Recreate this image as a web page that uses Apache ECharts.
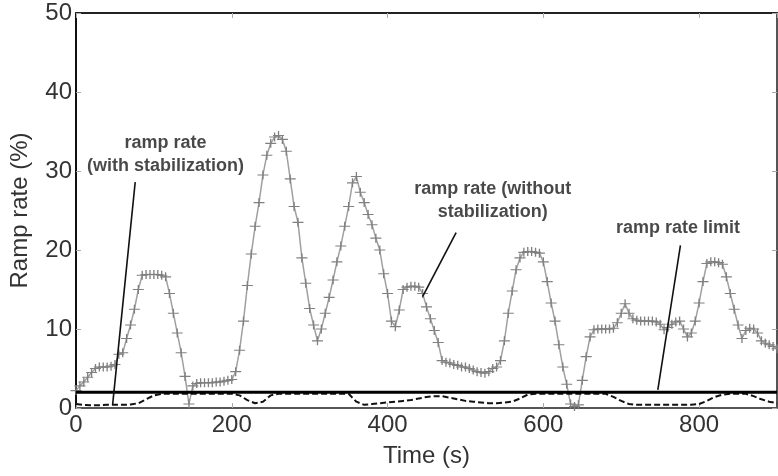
<!DOCTYPE html>
<html>
<head>
<meta charset="utf-8">
<script src="https://cdn.jsdelivr.net/npm/echarts@6/dist/echarts.min.js"></script>
<style>
  html, body { margin: 0; padding: 0; background: #fff; }
  #chart { width: 778px; height: 476px; }
</style>
</head>
<body>
<div id="chart"></div>
<script>
// Time axis (s) for the unstabilized ramp rate, sampled every 5 s
const timeRaw = [];
for (let t = 0; t <= 900; t += 5) timeRaw.push(t);

// Ramp rate without stabilization (%)
const rampRaw = [
  2.2, 2.8, 3.3, 3.9, 4.5, 5.0, 5.2, 5.2, 5.2, 5.3,
  5.5, 6.8, 7.0, 8.8, 10.5, 12.5, 15.0, 16.8, 16.9, 16.9,
  16.9, 16.9, 16.8, 16.6, 14.5, 12.0, 9.5, 7.0, 4.0, 0.5,
  2.8, 3.1, 3.2, 3.2, 3.2, 3.2, 3.3, 3.3, 3.4, 3.5,
  3.6, 4.6, 7.3, 11.0, 15.5, 19.5, 23.0, 26.0, 29.5, 32.0,
  33.5, 34.3, 34.5, 34.0, 32.5, 29.0, 25.5, 23.5, 19.0, 15.8,
  12.6, 10.5, 8.5, 10.0, 12.0, 14.0, 16.2, 18.5, 20.5, 23.0,
  25.5, 28.5, 29.3, 27.3, 26.0, 24.5, 23.2, 21.5, 20.0, 17.0,
  14.5, 11.0, 10.3, 12.4, 15.0, 15.3, 15.4, 15.4, 15.3, 14.5,
  12.8, 11.3, 9.8, 8.3, 6.0, 5.8, 5.7, 5.5, 5.4, 5.2,
  5.2, 5.0, 4.8, 4.6, 4.5, 4.4, 4.6, 5.0, 5.2, 6.0,
  8.5, 12.0, 14.8, 17.5, 19.0, 19.7, 19.8, 19.8, 19.7, 19.6,
  18.5, 16.0, 13.3, 11.0, 8.0, 5.2, 3.0, 0.5, 0.2, 0.4,
  3.5, 6.5, 9.0, 9.9, 10.0, 10.0, 10.0, 10.0, 10.1, 10.8,
  12.0, 13.2, 12.0, 11.3, 11.1, 11.0, 11.0, 11.0, 11.0, 10.9,
  10.6, 9.9, 10.2, 10.6, 10.9, 11.0, 10.0, 9.0, 9.5, 11.0,
  13.3, 16.0, 18.3, 18.5, 18.5, 18.4, 18.2, 16.6, 14.5, 12.5,
  10.5, 8.8, 9.8, 10.1, 10.0, 9.5, 8.5, 8.2, 8.0, 7.8,
  7.5
];

// Time axis (s) for the stabilized ramp rate, sampled every 10 s
const timeStab = [];
for (let t = 0; t <= 900; t += 10) timeStab.push(t);

// Ramp rate with stabilization (%)
const rampStab = [
  0.5, 0.4, 0.35, 0.35, 0.4, 0.4, 0.4, 0.45, 0.6, 1.1,
  1.6, 1.8, 1.8, 1.8, 1.8, 1.8, 1.8, 1.8, 1.8, 1.8,
  1.8, 1.6, 1.0, 0.6, 0.8, 1.6, 1.8, 1.8, 1.8, 1.8,
  1.8, 1.8, 1.8, 1.8, 1.8, 1.8, 0.8, 0.4, 0.5, 0.6,
  0.7, 0.8, 0.9, 1.0, 1.2, 1.4, 1.5, 1.5, 1.3, 1.1,
  0.9, 0.8, 0.7, 0.6, 0.6, 0.7, 0.8, 1.2, 1.7, 1.8,
  1.8, 1.8, 1.8, 1.8, 1.8, 1.8, 1.8, 1.8, 1.8, 1.4,
  0.9, 0.5, 0.4, 0.4, 0.4, 0.4, 0.4, 0.4, 0.4, 0.4,
  0.5, 0.9, 1.4, 1.7, 1.8, 1.8, 1.8, 1.5, 1.1, 0.8,
  0.6
];

// Ramp rate limit (%)
const rampLimit = 2;
const limitSpan = [0, 900];

// Annotation texts with their anchor (time, rate) and leader line ends
const noteTexts = ['ramp rate\n(with stabilization)', 'ramp rate (without\nstabilization)', 'ramp rate limit'];
const noteAnchors = [[115, 32.1], [535, 26.2], [773, 22.8]];
const noteLeaders = [
  [[76, 28.6], [47, 0.4]],
  [[488, 22.2], [445, 14.1]],
  [[776, 20.6], [747, 2.3]]
];

// Axis ticks (labels are shown only on multiples of the interval)
const xTicks = { min: 0, max: 900, interval: 200 };
const yTicks = { min: 0, max: 50, interval: 10 };

const FONT = '"Liberation Sans", Arial, Helvetica, sans-serif';
const plus = 'path://M0,4.4H10V5.6H0Z M4.4,0H5.6V10H4.4Z';

const zip = (xs, ys) => xs.map((x, i) => [x, ys[i]]);

const chart = echarts.init(document.getElementById('chart'), null, { renderer: 'canvas' });

const leaderSeries = noteLeaders.map(seg => ({
  type: 'line',
  data: seg,
  symbol: 'none',
  lineStyle: { color: '#111', width: 1.6 },
  z: 6,
  silent: true
}));

const axisText = { fontFamily: FONT, fontSize: 24, color: '#333' };

chart.setOption({
  animation: false,
  backgroundColor: '#fff',
  grid: { left: 76, right: 1, top: 13, bottom: 68, containLabel: false },
  xAxis: [
    {
      type: 'value', min: xTicks.min, max: xTicks.max, interval: xTicks.interval,
      name: 'Time (s)', nameLocation: 'middle', nameGap: 36,
      nameTextStyle: axisText,
      axisLine: { onZero: false, lineStyle: { color: '#555', width: 2 } },
      axisTick: { inside: true, length: 5, lineStyle: { color: '#aaa' } },
      axisLabel: Object.assign({
        margin: 5,
        showMaxLabel: false,
        formatter: v => (v % xTicks.interval === 0 ? String(v) : '')
      }, axisText),
      splitLine: { show: false }
    },
    {
      type: 'value', position: 'top', min: xTicks.min, max: xTicks.max, interval: xTicks.interval,
      axisLine: { onZero: false, lineStyle: { color: '#222', width: 2 } },
      axisTick: { inside: true, length: 5, lineStyle: { color: '#aaa' } },
      axisLabel: { show: false },
      splitLine: { show: false }
    }
  ],
  yAxis: [
    {
      type: 'value', min: yTicks.min, max: yTicks.max, interval: yTicks.interval,
      name: 'Ramp rate (%)', nameLocation: 'middle', nameGap: 44,
      nameTextStyle: axisText,
      axisLine: { show: true, onZero: false, lineStyle: { color: '#111', width: 2 } },
      axisTick: { show: true, inside: true, length: 5, lineStyle: { color: '#aaa' } },
      axisLabel: Object.assign({ margin: 4 }, axisText),
      splitLine: { show: false }
    },
    {
      type: 'value', position: 'right', min: yTicks.min, max: yTicks.max, interval: yTicks.interval,
      axisLine: { show: true, onZero: false, lineStyle: { color: '#555', width: 2 } },
      axisTick: { show: true, inside: true, length: 5, lineStyle: { color: '#aaa' } },
      axisLabel: { show: false },
      splitLine: { show: false }
    }
  ],
  series: [
    {
      name: 'ramp rate (without stabilization)',
      type: 'line',
      data: zip(timeRaw, rampRaw),
      symbol: plus,
      symbolSize: [11, 9],
      showAllSymbol: true,
      itemStyle: { color: '#808080' },
      lineStyle: { color: '#a0a0a0', width: 1.5 },
      z: 3
    },
    {
      name: 'ramp rate (with stabilization)',
      type: 'line',
      data: zip(timeStab, rampStab),
      symbol: 'none',
      lineStyle: { color: '#111', width: 2, type: [6, 3] },
      z: 4
    },
    {
      name: 'ramp rate limit',
      type: 'line',
      data: limitSpan.map(t => [t, rampLimit]),
      symbol: 'none',
      lineStyle: { color: '#000', width: 3 },
      z: 5
    },
    ...leaderSeries,
    {
      type: 'scatter',
      data: noteAnchors.map((p, i) => ({ value: p, label: { formatter: noteTexts[i] } })),
      symbolSize: 0,
      silent: true,
      z: 7,
      label: {
        show: true, position: 'inside', align: 'center', verticalAlign: 'middle',
        fontFamily: FONT, fontSize: 18, fontWeight: 'bold', color: '#1a1a1a', lineHeight: 23
      }
    }
  ]
});
</script>
</body>
</html>
